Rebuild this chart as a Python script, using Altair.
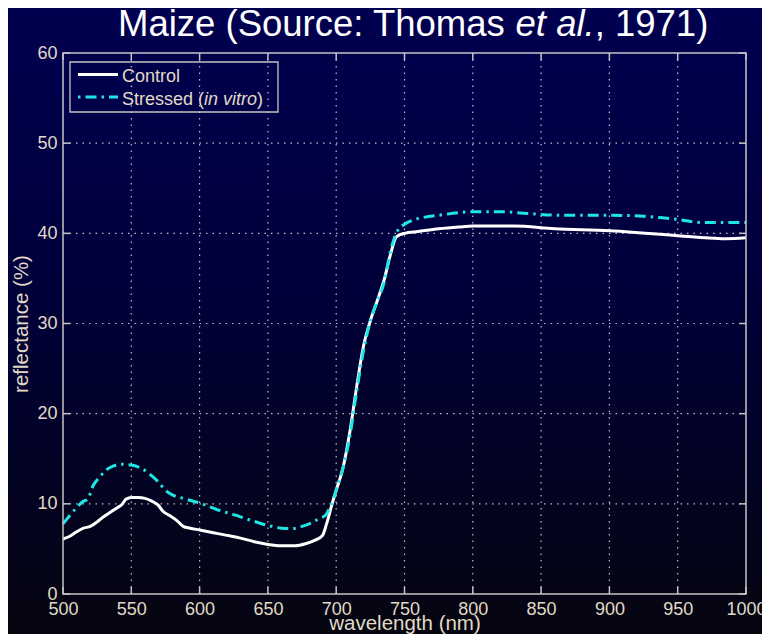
import altair as alt
import pandas as pd

# ---------------- data ----------------
wl_control = [500, 505, 510, 515, 520, 525, 530, 535, 540, 543, 546, 550, 555, 560, 565, 570, 573,
              578, 583, 588, 593, 600, 610, 620, 630, 640, 650, 660, 670, 678, 685, 690, 693, 697,
              700, 705, 710, 715, 720, 725, 730, 735, 740, 744, 750, 760, 775, 790, 800, 830, 860,
              900, 937, 952, 970, 985, 1000]
refl_control = [6.1, 6.4, 6.9, 7.3, 7.5, 8.0, 8.6, 9.1, 9.6, 9.9, 10.5, 10.7, 10.7, 10.6, 10.3, 9.8, 9.2,
                8.7, 8.2, 7.5, 7.3, 7.1, 6.8, 6.5, 6.2, 5.8, 5.5, 5.35, 5.35, 5.6, 6.0, 6.5, 7.8, 10.0,
                11.5, 14.0, 18.0, 23.0, 27.5, 30.3, 32.5, 34.8, 37.8, 39.6, 40.0, 40.2, 40.5, 40.7, 40.8, 40.8, 40.5,
                40.3, 39.9, 39.7, 39.5, 39.4, 39.5]

wl_stressed = [500, 505, 510, 515, 518, 522, 527, 532, 537, 542, 550, 555, 560, 565, 570, 575, 580,
               588, 600, 612, 625, 637, 650, 660, 668, 675, 682, 688, 692, 696, 700, 705, 710, 715,
               720, 725, 730, 735, 740, 745, 750, 757, 765, 775, 790, 800, 820, 840, 865, 900, 925,
               937, 952, 968, 985, 1000]
refl_stressed = [7.8, 8.7, 9.6, 10.3, 10.5, 12.0, 13.0, 13.8, 14.2, 14.4, 14.3, 14.1, 13.7, 13.1, 12.4, 11.5, 11.0,
                 10.6, 10.1, 9.4, 8.8, 8.2, 7.6, 7.3, 7.25, 7.5, 7.9, 8.4, 8.7, 9.8, 11.5, 14.0, 17.5, 22.5,
                 27.0, 30.3, 32.5, 34.5, 38.2, 40.3, 41.0, 41.5, 41.8, 42.0, 42.3, 42.4, 42.4, 42.2, 42.0, 42.0, 41.9,
                 41.75, 41.5, 41.2, 41.2, 41.2]

x_ticks = list(range(500, 1001, 50))
y_ticks = list(range(0, 61, 10))
title_parts = ["Maize (Source: Thomas", "et al.", ", 1971)"]
legend_parts = ["Control", "Stressed (", "in vitro", ")"]
x_title = "wavelength (nm)"
y_title = "reflectance (%)"

# ---------------- styling ----------------
W, H = 683, 541
PAD_L, PAD_T, PAD_R, PAD_B = 55, 45, 16, 40
FONT = "Liberation Sans"
LABEL = "#e0dac6"
FRAME = "#c4c4c4"
GRID = "#d4d4d4"
CYAN = "#1ee6e6"
DASH = [11, 5, 2.5, 5]

xs = alt.Scale(domain=[500, 1000], nice=False, zero=False)
ys = alt.Scale(domain=[0, 60], nice=False, zero=False)

ctrl_df = pd.DataFrame({"wl": wl_control, "r": refl_control})
str_df = pd.DataFrame({"wl": wl_stressed, "r": refl_stressed})
xt_df = pd.DataFrame({"wl": x_ticks})
yt_df = pd.DataFrame({"r": y_ticks})
one = alt.Data(values=[{"a": 1}])

# background gradient (covers the whole picture)
bg = alt.Chart(one).mark_rect(
    clip=False,
    fill=alt.Gradient(
        gradient="linear",
        stops=[alt.GradientStop(color="#000050", offset=0),
               alt.GradientStop(color="#00003a", offset=0.45),
               alt.GradientStop(color="#050510", offset=1)],
        x1=0, x2=0, y1=0, y2=1),
).encode(x=alt.value(-PAD_L), x2=alt.value(W + PAD_R), y=alt.value(-PAD_T), y2=alt.value(H + PAD_B))

# dotted grid
xgrid = alt.Chart(xt_df).transform_filter(
    (alt.datum.wl > 500) & (alt.datum.wl < 1000)
).mark_rule(color=GRID, strokeDash=[1.5, 5], strokeWidth=1.2, opacity=0.9).encode(
    x=alt.X("wl:Q", scale=xs), y=alt.value(0), y2=alt.value(H))
ygrid = alt.Chart(yt_df).transform_filter(
    (alt.datum.r > 0) & (alt.datum.r < 60)
).mark_rule(color=GRID, strokeDash=[1.5, 5], strokeWidth=1.2, opacity=0.9).encode(
    y=alt.Y("r:Q", scale=ys), x=alt.value(0), x2=alt.value(W))

# curves
control = alt.Chart(ctrl_df).mark_line(color="#ffffff", strokeWidth=3, interpolate="monotone").encode(
    x=alt.X("wl:Q", scale=xs, axis=alt.Axis(title=x_title, values=x_ticks, format="d", zindex=2)),
    y=alt.Y("r:Q", scale=ys, axis=alt.Axis(title=y_title, values=y_ticks, format="d", zindex=2)),
)
stressed = alt.Chart(str_df).mark_line(color=CYAN, strokeWidth=3, strokeDash=DASH,
                                       interpolate="monotone").encode(
    x=alt.X("wl:Q", scale=xs), y=alt.Y("r:Q", scale=ys))

# frame + inward ticks
frame = alt.Chart(one).mark_rect(filled=False, stroke=FRAME, strokeWidth=1.5).encode(
    x=alt.value(0), x2=alt.value(W), y=alt.value(0), y2=alt.value(H))
tick_kw = dict(color=FRAME, strokeWidth=1.5)
xt_b = alt.Chart(xt_df).mark_rule(**tick_kw).encode(x=alt.X("wl:Q", scale=xs), y=alt.value(H), y2=alt.value(H - 7))
xt_t = alt.Chart(xt_df).mark_rule(**tick_kw).encode(x=alt.X("wl:Q", scale=xs), y=alt.value(0), y2=alt.value(7))
yt_l = alt.Chart(yt_df).mark_rule(**tick_kw).encode(y=alt.Y("r:Q", scale=ys), x=alt.value(0), x2=alt.value(7))
yt_r = alt.Chart(yt_df).mark_rule(**tick_kw).encode(y=alt.Y("r:Q", scale=ys), x=alt.value(W), x2=alt.value(W - 7))

# title (mixed upright / italic)
def txt(s, x, y, size, color, style="normal"):
    return alt.Chart(one).mark_text(
        text=s, align="left", baseline="alphabetic", font=FONT, fontSize=size,
        fontStyle=style, color=color, clip=False
    ).encode(x=alt.value(x), y=alt.value(y))

TS = 36.5
t0 = 55
t1 = t0 + 10.892 * TS
t2 = t1 + 2.168 * TS
TY = -17
title_layers = [
    txt(title_parts[0], t0, TY, TS, "#ffffff"),
    txt(title_parts[1], t1, TY, TS, "#ffffff", "italic"),
    txt(title_parts[2], t2, TY, TS, "#ffffff"),
]

# legend (manual, for the italic part)
LS = 18
leg_box = alt.Chart(one).mark_rect(filled=False, stroke=FRAME, strokeWidth=1.3).encode(
    x=alt.value(7), x2=alt.value(215), y=alt.value(9), y2=alt.value(59))
leg_c = alt.Chart(one).mark_rule(color="#ffffff", strokeWidth=3).encode(
    x=alt.value(15), x2=alt.value(55), y=alt.value(21.5))
leg_s = alt.Chart(one).mark_rule(color=CYAN, strokeWidth=3, strokeDash=[2.5, 5, 11, 5]).encode(
    x=alt.value(15), x2=alt.value(55), y=alt.value(44))
l1 = 59 + 4.557 * LS
l2 = l1 + 2.945 * LS
legend_layers = [
    leg_box, leg_c, leg_s,
    txt(legend_parts[0], 59, 28.7, LS, LABEL),
    txt(legend_parts[1], 59, 51.5, LS, LABEL),
    txt(legend_parts[2], l1, 51.5, LS, LABEL, "italic"),
    txt(legend_parts[3], l2, 51.5, LS, LABEL),
]

chart = alt.layer(
    bg, xgrid, ygrid, control, stressed, frame, xt_b, xt_t, yt_l, yt_r,
    *title_layers, *legend_layers
).properties(
    width=W, height=H,
    autosize=alt.AutoSizeParams(type="none"),
    padding={"left": PAD_L, "top": PAD_T, "right": PAD_R, "bottom": PAD_B},
    background="#02022a",
).configure_view(
    stroke="transparent"
).configure_axis(
    grid=False, domain=False, ticks=False, tickSize=0, labelFlush=False,
    labelFont=FONT, labelFontSize=18, labelColor=LABEL,
    titleFont=FONT, titleFontSize=20.5, titleColor=LABEL, titleFontWeight="normal",
).configure_axisX(
    labelPadding=6, titleY=35, titleBaseline="alphabetic",
).configure_axisY(
    labelPadding=6, titleX=-36, titleY=H / 2, titleAngle=270, titleBaseline="alphabetic",
)

chart.save("out.html", embed_options={"renderer": "svg", "actions": False})
